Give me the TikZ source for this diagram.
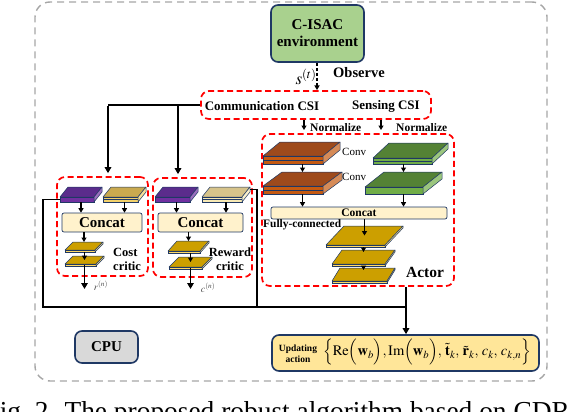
\documentclass[tikz,border=0pt]{standalone}
\usepackage{mathptmx}
\usepackage{fontspec}
\setmainfont{Liberation Serif}
\usepackage{amsmath, amssymb}
\usetikzlibrary{arrows.meta, positioning, calc}

\definecolor{navy}{HTML}{1F3864}
\definecolor{envgreen}{HTML}{A9D18E}
\definecolor{cpugray}{HTML}{D9D9D9}
\definecolor{updyellow}{HTML}{FFE699}
\definecolor{concat}{HTML}{FFF2CC}
\definecolor{brownT}{HTML}{9E4A1C}
\definecolor{brownF}{HTML}{C55A11}
\definecolor{greenT}{HTML}{548235}
\definecolor{greenF}{HTML}{70AD47}
\definecolor{purT}{HTML}{5B2C8C}
\definecolor{purF}{HTML}{7030A0}
\definecolor{golT}{HTML}{C9A94F}
\definecolor{golF}{HTML}{F2D16B}
\definecolor{begT}{HTML}{D6C38A}
\definecolor{begF}{HTML}{F7E9B5}
\definecolor{fcT}{HTML}{CC9F00}
\definecolor{fcF}{HTML}{FFD966}

\newcommand{\layer}[9]{%
	\filldraw[fill=#7, draw=navy, line width=0.5pt, line join=round] (#1,#2-#4) -- ++(#3,0) -- ++(#5,-#6) -- ++(-#3,0) -- cycle;
	\filldraw[fill=#8, draw=navy, line width=0.5pt] (#1,#2-#4) rectangle ++(#3,#4);
	\filldraw[fill=#8!70!white, draw=navy, line width=0.5pt, line join=round] (#1+#3,#2) -- ++(0,-#4) -- ++(#5,-#6) -- ++(0,#4) -- cycle;
	\coordinate (#9-c) at ({#1+#3/2+#5/2},{#2-#4-#6/2});
	\coordinate (#9-n) at ({#1+#3/2+#5/2},{#2-#4-#6});
	\coordinate (#9-s) at ({#1+#3/2+#5/2},#2);
	\coordinate (#9-w) at (#1,{#2-#4/2});
	\coordinate (#9-e) at ({#1+#3+#5},{#2-#4/2-#6});
}

\begin{document}
\begin{tikzpicture}[x=1pt, y=-1pt,
	frame/.style={draw=black!35, dashed, dash pattern=on 7pt off 5pt, line width=1.4pt, rounded corners=15pt, inner sep=0pt},
	box/.style={draw=navy, line width=1.6pt, rounded corners=7pt, inner sep=0pt},
	redbox/.style={draw=red, dash pattern=on 6pt off 3.5pt, line width=1.7pt, rounded corners=8pt, inner sep=0pt},
	cat/.style={draw=navy, line width=0.7pt, fill=concat, rounded corners=2pt, inner sep=0pt},
	lbl/.style={font=\bfseries\fontsize{13}{15}\selectfont, inner sep=0pt},
	arr/.style={line width=1.1pt, -{Triangle[length=4.5pt,width=5pt]}},
	arr2/.style={line width=1.8pt, -{Triangle[length=6pt,width=6.5pt]}},
	fb/.style={line width=1.8pt}]
	\useasboundingbox (0,0) rectangle (568,412);
	\node[frame, minimum width=512pt, minimum height=379pt] (frame) at (291,191.5) {};
	
	\node[box, fill=envgreen, minimum width=93pt, minimum height=57pt, align=center, font=\bfseries\fontsize{15}{17}\selectfont] (env) at (317.5,33.5) {C-ISAC\\environment};
	\node[redbox, minimum width=230pt, minimum height=28pt] (csi) at (316,105) {};
	\node[lbl] (comm) at (262,106) {Communication CSI};
	\node[lbl] (sens) at (386,106) {Sensing CSI};
	\coordinate (o1) at (317,90);
	\draw[arr, dashed, dash pattern=on 3pt off 2pt] (env.south -| o1) -- (o1);
	\node[lbl, font=\bfseries\fontsize{14.5}{16}\selectfont, anchor=west] (obs) at (333,73) {Observe};
	\node[inner sep=0pt, font=\fontsize{17}{19}\selectfont] (st) at (306,77) {$s^{(t)}$};
	
	\coordinate (n1) at (304,130);
	\coordinate (n2) at (381,130);
	\draw[arr] (csi.south -| n1) -- (n1);
	\draw[arr] (csi.south -| n2) -- (n2);
	\node[lbl, font=\bfseries\fontsize{11.5}{13}\selectfont, right=6pt of n1, yshift=2pt] (nz1) {Normalize};
	\node[lbl, font=\bfseries\fontsize{11.5}{13}\selectfont, right=15pt of n2, yshift=2pt] (nz2) {Normalize};
	
	\node[redbox, minimum width=192pt, minimum height=152pt] (actor) at (358,210) {};
	\layer{263}{164}{60}{8}{17}{14}{brownT}{brownF}{a1}
	\layer{263}{194}{60}{8}{19}{14}{brownT}{brownF}{a2}
	\layer{373}{164}{59}{6}{16}{15}{greenT}{greenF}{b1}
	\layer{365}{194}{58}{7}{19}{15}{greenT}{greenF}{b2}
	\draw[navy, line width=0.4pt] (a1-w) -- ++(60,0) (a2-w) -- ++(60,0) (b1-w) -- ++(59,0);
	\node[inner sep=0pt, font=\fontsize{11}{13}\selectfont, anchor=west] (cv1) at (342,152) {Conv};
	\node[inner sep=0pt, font=\fontsize{11}{13}\selectfont, anchor=west] (cv2) at (342,177) {Conv};
	\node[cat, minimum width=176pt, minimum height=12pt, font=\bfseries\fontsize{11.5}{13}\selectfont] (cat3) at (359,213) {Concat};
	\draw[arr] (a1-s -| a2-n) -- (a2-n);
	\draw[arr] (b1-s -| b2-n) -- (b2-n);
	\draw[arr] (a2-s) -- (a2-s |- cat3.north);
	\draw[arr] (b2-s) -- (b2-s |- cat3.north);
	\node[lbl, font=\bfseries\fontsize{11.4}{13}\selectfont, anchor=west] (fcl) at (263,225) {Fully-connected};
	\layer{326}{247}{59}{2}{18}{19}{fcT}{fcF}{h1}
	\layer{332}{266}{53}{2}{10}{14}{fcT}{fcF}{h2}
	\layer{332}{283}{55}{2}{8}{13}{fcT}{fcF}{h3}
	\draw[arr] (cat3.south -| h1-c) -- (h1-c);
	\draw[arr] (h1-s -| h2-n) -- ([yshift=-2pt]h2-n);
	\draw[arr] (h2-s -| h3-n) -- ([yshift=-2pt]h3-n);
	\node[lbl, font=\bfseries\fontsize{15.5}{17}\selectfont] (act) at (425,272) {Actor};
	
	\node[redbox, minimum width=91pt, minimum height=99pt] (cost) at (102.5,226.5) {};
	\node[redbox, minimum width=99pt, minimum height=99pt] (rew) at (202.5,227.5) {};
	\layer{60}{202}{34}{5}{8}{10}{purT}{purF}{p1}
	\layer{103}{202}{35}{5}{8}{10}{golT}{golF}{q1}
	\layer{155}{202}{35}{5}{8}{10}{purT}{purF}{p2}
	\layer{202}{202}{40}{5}{8}{10}{begT}{begF}{q2}
	\draw[navy, line width=0.4pt] (q1-w) -- ++(35,0) (q2-w) -- ++(40,0);
	\node[cat, minimum width=80pt, minimum height=19pt, font=\bfseries\fontsize{15}{17}\selectfont] (cat1) at (102,222.5) {Concat};
	\node[cat, minimum width=85pt, minimum height=19pt, font=\bfseries\fontsize{15}{17}\selectfont] (cat2) at (200.5,222.5) {Concat};
	\foreach \s in {p1,q1,p2,q2}
		\draw[arr] (\s-s) -- (\s-s |- cat1.north);
	\layer{65}{252}{30}{2}{8}{8}{fcT}{fcF}{f1}
	\layer{65}{266}{31}{2}{8}{8}{fcT}{fcF}{f2}
	\layer{168}{253}{32}{2}{9}{10}{fcT}{fcF}{g1}
	\layer{169}{269}{33}{2}{10}{10}{fcT}{fcF}{g2}
	\draw[arr] (cat1.south -| f1-n) -- (f1-n);
	\draw[arr] (f1-s -| f2-c) -- (f2-c);
	\draw[arr] (cat2.south -| g1-n) -- (g1-n);
	\draw[arr] (g1-s -| g2-c) -- (g2-c);
	\node[lbl, font=\bfseries\fontsize{12.5}{14}\selectfont, align=left, anchor=west] (cc) at (113,259) {Cost\\critic};
	\node[lbl, font=\bfseries\fontsize{12.5}{14}\selectfont, align=center] (rc) at (230,259) {Reward\\critic};
	\coordinate (r0) at (84,289);
	\coordinate (c0) at (190,289);
	\draw[arr2] (f2-s |- f2-w) -- (f2-s |- r0);
	\draw[arr2] (g2-s |- g2-w) -- (g2-s |- c0);
	\node[inner sep=0pt, text=black!70, font=\fontsize{10}{12}\selectfont] (rn) at (101,286) {$r^{(n)}$};
	\node[inner sep=0pt, text=black!70, font=\fontsize{10}{12}\selectfont] (cn) at (208,288) {$c^{(n)}$};
	
	\coordinate (t1) at (108,106);
	\coordinate (t2) at (178,106);
	\draw[fb] (csi.west) -- (csi.west -| t1);
	\draw[arr2, shorten >=3pt] (t1) -- (t1 |- cost.north);
	\draw[arr2, shorten >=3pt] (t2) -- (t2 |- rew.north);
	
	\coordinate (k1) at (43,307);
	\coordinate (k2) at (257,307);
	\coordinate (k3) at (406,307);
	\draw[fb] (p1-w) -| (k1) -- (k3);
	\draw[fb] (q2-e) -| (k2);
	\draw[fb] (actor.south -| k3) -- (k3);
	
	\node[box, fill=cpugray, minimum width=63pt, minimum height=32pt, font=\bfseries\fontsize{15}{17}\selectfont] (cpu) at (106.5,347) {CPU};
	\node[box, fill=updyellow, minimum width=267pt, minimum height=36pt] (upd) at (405.5,353) {};
	\draw[arr2] (k3) -- (k3 |- upd.north);
	\node[inner sep=0pt, font=\bfseries\fontsize{9.5}{11}\selectfont, align=center] (ua) at (298,353.5) {Updating\\action};
	\node[inner sep=0pt, font=\fontsize{14.5}{17}\selectfont] (um) at (427,352) {$\Big\{\mathrm{Re}\Big(\mathbf{w}_b\Big),\mathrm{Im}\Big(\mathbf{w}_b\Big),\,\tilde{\mathbf{t}}_{k},\,\tilde{\mathbf{r}}_{k},\,c_{k},\,c_{k,n}\Big\}$};
	
	\node[anchor=base west, inner sep=0pt, font=\fontsize{27.4}{30}\selectfont] (cap) at (-15.6,420) {Fig.~2. The proposed robust algorithm based on CDRL.};
\end{tikzpicture}
\end{document}
